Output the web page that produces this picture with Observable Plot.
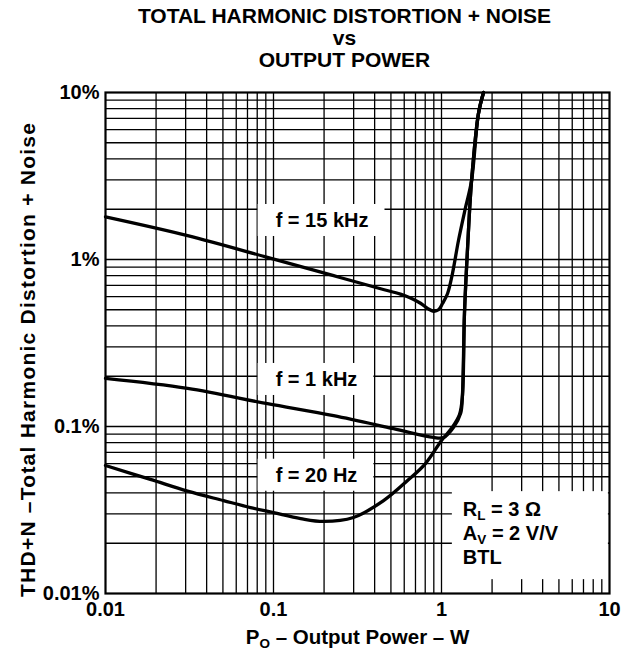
<!DOCTYPE html>
<html><head><meta charset="utf-8">
<script src="https://cdn.jsdelivr.net/npm/d3@7"></script>
<script src="https://cdn.jsdelivr.net/npm/@observablehq/plot@0.6"></script>
<style>
body{margin:0;background:#fff}
svg{font-family:"Liberation Sans",Arial,Helvetica,sans-serif}
</style>
</head><body><div id="chart"></div>
<script>
// ---- data ----
const power15k = [0.0100, 0.0308, 0.092, 0.228, 0.434, 0.570, 0.654, 0.750, 0.830, 0.896, 0.960, 1.014, 1.087, 1.162, 1.262, 1.39, 1.51, 1.66, 1.78];
const thd15k   = [1.80,   1.39,   1.03,  0.80,  0.668, 0.620, 0.588, 0.547, 0.508, 0.490, 0.500, 0.545, 0.626, 0.824, 1.30,  2.05, 2.97, 7.49, 10];

const power1k = [0.0100, 0.0308, 0.092, 0.228, 0.518, 0.896, 1.03, 1.18, 1.30, 1.33, 1.37, 1.43, 1.51, 1.66, 1.78];
const thd1k   = [0.194,  0.169,  0.137, 0.116, 0.097, 0.086, 0.086, 0.099, 0.120, 0.149, 0.475, 1.18, 2.97, 7.49, 10];

const power20 = [0.0100, 0.0185, 0.0308, 0.0504, 0.0730, 0.100, 0.145, 0.199, 0.299, 0.452, 0.628, 0.803, 1.0, 1.16, 1.28, 1.33, 1.37, 1.43, 1.51, 1.66, 1.78];
const thd20   = [0.0584, 0.0482, 0.0410, 0.0360, 0.0327, 0.0305, 0.0281, 0.0270, 0.0285, 0.0360, 0.0475, 0.0600, 0.0824, 0.099, 0.118, 0.149, 0.475, 1.18, 2.97, 7.49, 10];

const xTicks = [0.01, 0.1, 1, 10];
const xTickLabels = ["0.01", "0.1", "1", "10"];
const yTicks = [0.01, 0.1, 1, 10];
const yTickLabels = ["0.01%", "0.1%", "1%", "10%"];

const curveLabels = ["f = 15 kHz", "f = 1 kHz", "f = 20 Hz"];
const curveLabelX = [0.103, 0.103, 0.103];
const curveLabelY = [1.71, 0.191, 0.051];

const legendLines = ["R_L = 3 Ω", "A_V = 2 V/V", "BTL"];
const legendX = 1.34;
const legendY = 0.0232;

const titleLines = ["TOTAL HARMONIC DISTORTION + NOISE", "vs", "OUTPUT POWER"];
const xLabel = "P_O – Output Power – W";
const yLabel = "THD+N –Total Harmonic Distortion + Noise";

// ---- derived tables ----
const decades = [0.01, 0.1, 1];
const gridVals = decades.flatMap(d => [1,2,3,4,5,6,7,8,9].map(m => +(d*m).toPrecision(3))).filter(v => v > 0.01);
const series = [
  ...power15k.map((p,i) => ({f:"15k", p, t: thd15k[i]})),
  ...power1k.map((p,i) => ({f:"1k", p, t: thd1k[i]})),
  ...power20.map((p,i) => ({f:"20", p, t: thd20[i]}))
];
const labelData = curveLabels.map((s,i) => ({s, x: curveLabelX[i], y: curveLabelY[i]}));
const legendData = [{s: legendLines.join("\n"), x: legendX, y: legendY}];

const W = 628, H = 655;
const plot = Plot.plot({
  width: W, height: H,
  marginLeft: 105, marginRight: 19, marginTop: 92, marginBottom: 62,
  style: {fontSize: "20px", fontWeight: "bold", fontFamily: "'Liberation Sans', Arial, sans-serif", color: "#000", background: "#fff"},
  x: {type: "log", domain: [0.01, 10]},
  y: {type: "log", domain: [0.01, 10]},
  marks: [
    Plot.ruleX(gridVals, {stroke: "#000", strokeWidth: 1.3}),
    Plot.ruleY(gridVals, {stroke: "#000", strokeWidth: 1.3}),
    Plot.frame({stroke: "#000", strokeWidth: 2.2}),
    Plot.line(series, {x: "p", y: "t", z: "f", stroke: "#000", strokeWidth: 3.3, curve: "catmull-rom"}),
    Plot.text(labelData, {x: "x", y: "y", text: "s", textAnchor: "start", fill: "#000"}),
    Plot.text(legendData, {x: "x", y: "y", text: "s", textAnchor: "start", lineAnchor: "middle", lineHeight: 1.2, fill: "#000"}),
    Plot.text([titleLines.join("\n")], {frameAnchor: "top", lineAnchor: "top", lineHeight: 1.05, dx: -13, dy: -85, fill: "#000", fontSize: 21}),
    Plot.text([xLabel], {frameAnchor: "bottom", dy: 50, fill: "#000", fontSize: 20.5}),
    Plot.text([yLabel], {frameAnchor: "left", textAnchor: "middle", rotate: -90, dx: -77, dy: 17, fill: "#000", fontSize: 21}),
    Plot.axisX({ticks: xTicks, tickFormat: (d) => xTickLabels[xTicks.indexOf(d)], tickSize: 0, tickPadding: 8, label: null, fill: "#000"}),
    Plot.axisY({ticks: yTicks, tickFormat: (d) => yTickLabels[yTicks.indexOf(d)], tickSize: 0, tickPadding: 6, label: null, fill: "#000"})
  ]
});
document.getElementById("chart").appendChild(plot);

const ns = "http://www.w3.org/2000/svg";
const allTexts = [...plot.querySelectorAll("text")];
const svgBox = plot.getBoundingClientRect();
const boxOf = t => {
  const b = t.getBoundingClientRect();
  return {x: b.left - svgBox.left, y: b.top - svgBox.top, w: b.width, h: b.height};
};

// subscripts (works on a <text> or a line <tspan>)
function subscriptify(el) {
  const m = el.textContent.match(/^(\w)_(\w)(.*)$/);
  if (!m) return;
  el.textContent = "";
  const a = document.createElementNS(ns, "tspan"); a.textContent = m[1];
  const b = document.createElementNS(ns, "tspan"); b.textContent = m[2];
  b.setAttribute("font-size", "13.5"); b.setAttribute("dy", "4");
  const c = document.createElementNS(ns, "tspan"); c.textContent = m[3]; c.setAttribute("dy", "-4");
  el.append(a, b, c);
}
allTexts.filter(t => t.textContent === xLabel).forEach(subscriptify);
plot.querySelectorAll("tspan").forEach(ts => { if (/^(R_L|A_V)/.test(ts.textContent)) subscriptify(ts); });

// stretch y label to the reference length
allTexts.filter(t => t.textContent === yLabel).forEach(t => {
  t.setAttribute("textLength", 474);
  t.setAttribute("lengthAdjust", "spacing");
});

function addRect(beforeEl, x, y, w, h) {
  const grp = beforeEl.parentNode;
  const g = document.createElementNS(ns, "g");
  const r = document.createElementNS(ns, "rect");
  r.setAttribute("x", x); r.setAttribute("y", y);
  r.setAttribute("width", w); r.setAttribute("height", h);
  r.setAttribute("fill", "#fff");
  g.appendChild(r);
  grp.parentNode.insertBefore(g, grp);
}

// white backgrounds behind curve labels
allTexts.filter(t => curveLabels.includes(t.textContent)).forEach(t => {
  const b = boxOf(t);
  addRect(t, b.x - 18, b.y - 5, b.w + 34, b.h + 10);
});

// legend box extending to the right edge of the frame
const legEl = allTexts.find(t => t.textContent.includes("BTL"));
if (legEl) {
  const b = boxOf(legEl);
  const x0 = b.x - 11, y0 = b.y - 7, y1 = b.y + b.h + 11;
  const x1 = plot.scale("x").apply(10) - 1.1;
  addRect(legEl, x0, y0, x1 - x0, y1 - y0);
}
</script>
</body></html>
